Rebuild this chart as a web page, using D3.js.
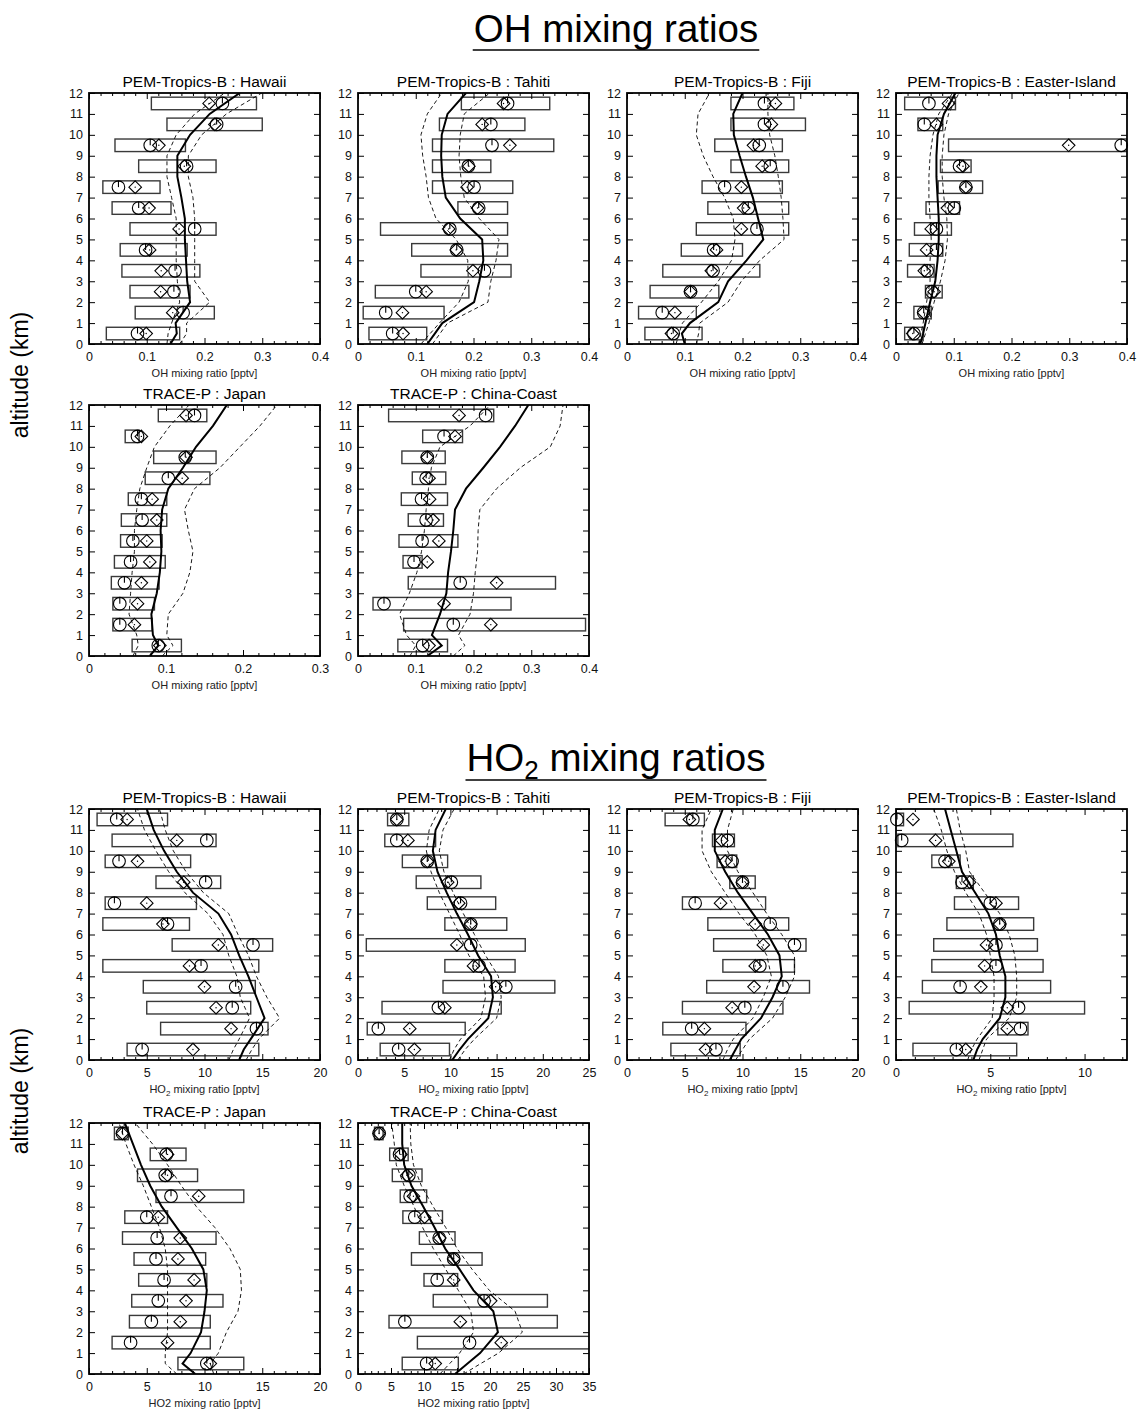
<!DOCTYPE html>
<html><head><meta charset="utf-8">
<script src="https://cdn.jsdelivr.net/npm/d3@7"></script>
<style>body{margin:0;background:#fff}svg{font-family:"Liberation Sans",Arial,Helvetica,sans-serif}</style>
</head><body>
<svg id="c" width="1137" height="1412"></svg>
<script>
// ---------- altitude grids ----------
const boxAlt = [0.5,1.5,2.5,3.5,4.5,5.5,6.5,7.5,8.5,9.5,10.5,11.5];
const lineAlt = [0,0.5,1,2,3,4,5,6,7,8,9,10,11,12];
const yTicks = [0,1,2,3,4,5,6,7,8,9,10,11,12];

// ---------- OH : PEM-Tropics-B Hawaii ----------
const ohHawaiiBox = [[0.030,0.157],[0.080,0.217],[0.071,0.175],[0.057,0.192],[0.054,0.170],[0.071,0.220],[0.040,0.142],[0.024,0.123],[0.086,0.220],[0.045,0.167],[0.135,0.300],[0.108,0.290]];
const ohHawaiiCircle = [0.084,0.163,0.147,0.149,0.098,0.183,0.086,0.051,0.169,0.106,0.221,0.231];
const ohHawaiiDiamond = [0.099,0.145,0.124,0.125,0.105,0.156,0.104,0.080,0.165,0.121,0.218,0.208];
const ohHawaiiModel = [0.141,0.152,0.150,0.175,0.170,0.168,0.166,0.166,0.160,0.153,0.153,0.175,0.209,0.261];
const ohHawaiiLo = [0.135,0.137,0.143,0.157,0.153,0.151,0.151,0.151,0.143,0.135,0.135,0.151,0.183,0.235];
const ohHawaiiHi = [0.157,0.169,0.169,0.209,0.183,0.183,0.183,0.183,0.180,0.172,0.172,0.195,0.238,0.299];

// ---------- OH : Tahiti ----------
const ohTahitiBox = [[0.019,0.119],[0.009,0.149],[0.030,0.192],[0.109,0.265],[0.093,0.259],[0.039,0.259],[0.173,0.259],[0.129,0.268],[0.129,0.230],[0.129,0.339],[0.141,0.289],[0.179,0.332]];
const ohTahitiCircle = [0.060,0.048,0.100,0.219,0.171,0.159,0.209,0.201,0.191,0.232,0.230,0.259];
const ohTahitiDiamond = [0.078,0.077,0.118,0.199,0.170,0.157,0.207,0.189,0.192,0.263,0.215,0.252];
const ohTahitiModel = [0.120,0.133,0.146,0.201,0.210,0.217,0.215,0.177,0.152,0.146,0.144,0.145,0.155,0.187];
const ohTahitiLo = [0.109,0.125,0.141,0.175,0.191,0.190,0.170,0.135,0.122,0.118,0.112,0.109,0.120,0.145];
const ohTahitiHi = [0.129,0.142,0.155,0.225,0.230,0.239,0.244,0.210,0.184,0.178,0.175,0.177,0.184,0.228];

// ---------- OH : Fiji ----------
const ohFijiBox = [[0.031,0.130],[0.020,0.120],[0.040,0.159],[0.062,0.230],[0.094,0.200],[0.120,0.280],[0.140,0.280],[0.130,0.269],[0.180,0.280],[0.152,0.269],[0.180,0.309],[0.180,0.289]];
const ohFijiCircle = [0.080,0.061,0.110,0.149,0.150,0.225,0.210,0.169,0.248,0.229,0.238,0.238];
const ohFijiDiamond = [0.077,0.083,0.110,0.146,0.155,0.198,0.202,0.198,0.234,0.219,0.250,0.257];
const ohFijiModel = [0.100,0.095,0.109,0.158,0.175,0.207,0.236,0.227,0.218,0.206,0.195,0.185,0.184,0.200];
const ohFijiLo = [0.085,0.090,0.096,0.129,0.158,0.181,0.187,0.184,0.169,0.149,0.132,0.120,0.123,0.143];
const ohFijiHi = [0.120,0.124,0.126,0.175,0.198,0.230,0.272,0.270,0.267,0.262,0.256,0.247,0.244,0.244];

// ---------- OH : Easter-Island ----------
const ohEasterBox = [[0.015,0.047],[0.031,0.061],[0.051,0.080],[0.020,0.066],[0.023,0.081],[0.032,0.096],[0.052,0.110],[0.073,0.150],[0.077,0.130],[0.091,0.400],[0.038,0.081],[0.015,0.103]];
const ohEasterCircle = [0.031,0.048,0.062,0.054,0.070,0.070,0.101,0.121,0.110,0.390,0.049,0.057];
const ohEasterDiamond = [0.029,0.048,0.066,0.049,0.053,0.061,0.089,0.121,0.116,0.299,0.070,0.091];
const ohEasterModel = [0.042,0.047,0.051,0.059,0.068,0.072,0.074,0.074,0.072,0.070,0.070,0.072,0.083,0.103];
const ohEasterLo = [0.039,0.043,0.047,0.053,0.059,0.059,0.061,0.059,0.057,0.057,0.059,0.064,0.074,0.098];
const ohEasterHi = [0.045,0.051,0.057,0.066,0.077,0.085,0.089,0.088,0.083,0.080,0.080,0.083,0.091,0.109];

// ---------- OH : TRACE-P Japan ----------
const ohJapanBox = [[0.056,0.120],[0.031,0.082],[0.031,0.085],[0.029,0.091],[0.033,0.099],[0.041,0.095],[0.042,0.101],[0.051,0.101],[0.073,0.157],[0.084,0.165],[0.047,0.065],[0.090,0.153]];
const ohJapanCircle = [0.090,0.040,0.040,0.046,0.054,0.057,0.069,0.068,0.103,0.125,0.063,0.137];
const ohJapanDiamond = [0.092,0.059,0.063,0.068,0.079,0.075,0.088,0.082,0.121,0.126,0.068,0.126];
const ohJapanModel = [0.079,0.090,0.083,0.081,0.088,0.092,0.094,0.093,0.095,0.103,0.122,0.139,0.161,0.179];
const ohJapanLo = [0.057,0.064,0.062,0.052,0.054,0.056,0.059,0.059,0.062,0.066,0.075,0.085,0.105,0.130];
const ohJapanHi = [0.095,0.109,0.101,0.103,0.122,0.131,0.135,0.129,0.124,0.137,0.170,0.196,0.222,0.244];

// ---------- OH : TRACE-P China-Coast ----------
const ohChinaBox = [[0.069,0.155],[0.079,0.394],[0.026,0.265],[0.087,0.342],[0.078,0.111],[0.071,0.173],[0.087,0.148],[0.075,0.155],[0.094,0.152],[0.076,0.151],[0.112,0.181],[0.053,0.235]];
const ohChinaCircle = [0.112,0.165,0.045,0.177,0.097,0.111,0.118,0.110,0.118,0.120,0.149,0.221];
const ohChinaDiamond = [0.123,0.230,0.149,0.240,0.120,0.140,0.130,0.124,0.123,0.120,0.168,0.175];
const ohChinaModel = [0.120,0.145,0.128,0.142,0.153,0.156,0.161,0.165,0.168,0.187,0.217,0.246,0.272,0.295];
const ohChinaLo = [0.090,0.100,0.084,0.072,0.089,0.102,0.110,0.115,0.118,0.122,0.127,0.142,0.194,0.229];
const ohChinaHi = [0.165,0.185,0.174,0.194,0.200,0.203,0.207,0.208,0.211,0.240,0.281,0.333,0.350,0.355];

// ---------- HO2 : Hawaii ----------
const ho2HawaiiBox = [[3.3,14.7],[6.2,15.5],[5.0,14.0],[4.7,14.4],[1.2,14.7],[7.2,15.9],[1.2,8.7],[1.4,9.3],[5.8,11.4],[1.4,8.8],[2.0,11.0],[0.7,6.8]];
const ho2HawaiiCircle = [4.6,14.5,12.4,12.7,9.7,14.2,6.8,2.2,10.1,2.6,10.2,2.4];
const ho2HawaiiDiamond = [9.0,12.3,11.0,10.0,8.7,11.2,6.4,5.0,8.2,4.2,7.6,3.3];
const ho2HawaiiModel = [13.0,13.4,14.0,15.2,14.5,13.8,13.0,12.3,11.2,9.0,7.6,6.5,5.6,5.0];
const ho2HawaiiLo = [12.1,12.5,13.0,13.9,13.1,12.8,12.1,11.6,10.3,8.3,6.9,5.8,4.8,4.2];
const ho2HawaiiHi = [13.6,14.1,14.7,16.5,15.4,14.5,13.8,12.9,12.1,9.9,8.4,7.3,6.6,6.1];

// ---------- HO2 : Tahiti ----------
const ho2TahitiBox = [[2.4,9.9],[1.0,11.6],[2.6,15.5],[9.2,21.3],[9.4,17.0],[0.9,18.1],[9.4,16.1],[7.5,14.9],[6.3,13.3],[4.8,9.7],[2.9,8.4],[3.2,5.5]];
const ho2TahitiCircle = [4.4,2.2,8.7,16.0,13.1,12.2,12.2,11.1,10.1,7.5,4.2,4.2];
const ho2TahitiDiamond = [6.1,5.6,9.4,14.9,12.5,10.7,12.2,10.9,9.7,7.5,5.4,4.2];
const ho2TahitiModel = [10.2,11.0,11.9,14.1,14.6,14.4,13.0,11.9,10.7,9.6,8.6,8.1,8.4,9.5];
const ho2TahitiLo = [9.9,10.4,11.1,13.3,13.8,13.6,12.0,11.0,9.9,8.8,7.9,7.4,7.7,8.8];
const ho2TahitiHi = [10.8,11.6,12.6,15.0,15.5,15.2,13.8,12.6,11.4,10.3,9.3,8.8,9.2,10.4];

// ---------- HO2 : Fiji ----------
const ho2FijiBox = [[3.8,9.8],[3.1,10.3],[4.8,13.5],[6.9,15.8],[8.3,14.5],[7.5,15.5],[7.0,14.0],[4.8,12.0],[8.9,11.1],[7.8,9.5],[7.4,9.3],[3.3,6.7]];
const ho2FijiCircle = [7.7,5.6,10.2,13.5,11.5,14.5,12.4,5.9,10.0,9.1,8.7,5.7];
const ho2FijiDiamond = [6.8,6.7,9.1,11.0,11.1,11.8,11.1,8.1,10.0,8.5,8.2,5.4];
const ho2FijiModel = [8.9,9.4,9.9,11.6,12.6,13.4,13.2,12.2,10.9,9.6,8.5,7.6,7.6,8.3];
const ho2FijiLo = [8.3,8.7,9.2,10.9,11.8,12.5,12.1,11.1,9.7,8.5,7.3,6.5,6.5,7.3];
const ho2FijiHi = [9.4,10.0,10.6,12.6,13.7,14.5,14.5,13.4,12.1,10.9,9.6,8.7,8.7,9.2];

// ---------- HO2 : Easter-Island ----------
const ho2EasterBox = [[0.9,6.4],[5.4,7.0],[0.7,10.0],[1.4,8.2],[1.9,7.8],[2.0,7.5],[2.7,7.3],[3.1,6.5],[3.2,4.1],[1.9,3.4],[0.1,6.2],[-0.1,0.4]];
const ho2EasterCircle = [3.2,6.6,6.5,3.4,5.3,5.3,5.5,5.0,3.5,2.6,0.3,0.05];
const ho2EasterDiamond = [3.7,5.9,5.9,4.5,4.7,4.8,5.5,5.3,3.9,2.8,2.1,0.9];
const ho2EasterModel = [4.1,4.3,4.6,5.5,5.8,5.8,5.5,5.3,4.9,4.2,3.5,3.2,2.9,2.6];
const ho2EasterLo = [3.8,4.0,4.3,5.1,5.2,5.2,5.0,4.8,4.4,3.7,3.1,2.7,2.4,2.0];
const ho2EasterHi = [4.4,4.6,4.8,6.0,6.4,6.4,6.3,6.0,5.5,4.7,3.9,3.7,3.4,3.2];

// ---------- HO2 : TRACE-P Japan ----------
const ho2JapanBox = [[7.7,13.4],[2.0,10.5],[3.5,10.5],[3.7,11.6],[4.3,10.2],[3.9,10.1],[2.9,11.0],[3.1,6.8],[5.8,13.4],[4.2,9.4],[5.3,8.4],[2.2,3.4]];
const ho2JapanCircle = [10.2,3.6,5.4,6.0,6.5,5.8,5.9,5.0,7.1,6.6,6.7,2.9];
const ho2JapanDiamond = [10.5,6.8,7.9,8.4,9.1,7.7,7.9,6.0,9.5,6.8,6.8,2.9];
const ho2JapanModel = [9.2,8.1,8.8,9.7,10.0,10.2,9.9,8.9,7.6,6.3,5.3,4.5,3.8,3.1];
const ho2JapanLo = [7.6,6.6,6.6,6.8,6.8,6.8,6.8,6.6,6.1,5.4,4.7,3.9,3.2,2.6];
const ho2JapanHi = [10.8,10.5,11.2,11.9,12.9,13.2,13.1,12.2,10.9,9.3,8.0,6.8,5.5,4.0];

// ---------- HO2 : TRACE-P China-Coast ----------
const ho2ChinaBox = [[6.7,15.2],[9.0,36],[4.7,30.2],[11.4,28.7],[10.0,15.1],[8.1,18.8],[9.3,14.7],[6.8,12.8],[6.4,10.4],[5.2,9.7],[4.8,7.6],[2.5,3.8]];
const ho2ChinaCircle = [10.4,16.9,7.1,19.1,12.0,14.5,12.3,8.6,7.9,7.7,6.3,3.2];
const ho2ChinaDiamond = [11.7,21.7,15.5,20.1,14.5,14.5,12.4,10.1,8.4,7.4,6.5,3.2];
const ho2ChinaModel = [14.7,16.6,18.5,21.2,20.5,17.5,15.4,13.2,11.6,9.9,8.1,7.0,6.7,6.7];
const ho2ChinaLo = [12.4,13.9,15.4,17.5,17.1,15.2,13.3,11.4,9.8,8.5,7.0,5.8,5.5,5.1];
const ho2ChinaHi = [16.0,18.6,21.3,24.9,23.8,19.9,17.3,15.0,13.3,11.4,9.6,8.4,8.0,7.9];

// ---------- titles / labels ----------
const panelTitles = ["PEM-Tropics-B : Hawaii","PEM-Tropics-B : Tahiti","PEM-Tropics-B : Fiji","PEM-Tropics-B : Easter-Island","TRACE-P : Japan","TRACE-P : China-Coast"];

// ---------- layout ----------
const colX = [89,358,627,896];
const rowY = [93,405,809,1123];
const PW = 231, PH = 251;

const svg = d3.select("#c");
const FONT = '"Liberation Sans",Arial,Helvetica,sans-serif';

const panels = [
  {r:0,c:0,t:0,kind:"OH",dom:[0,0.4],maj:0.1,min:0.02,box:ohHawaiiBox,cir:ohHawaiiCircle,dia:ohHawaiiDiamond,mod:ohHawaiiModel,lo:ohHawaiiLo,hi:ohHawaiiHi},
  {r:0,c:1,t:1,kind:"OH",dom:[0,0.4],maj:0.1,min:0.02,box:ohTahitiBox,cir:ohTahitiCircle,dia:ohTahitiDiamond,mod:ohTahitiModel,lo:ohTahitiLo,hi:ohTahitiHi},
  {r:0,c:2,t:2,kind:"OH",dom:[0,0.4],maj:0.1,min:0.02,box:ohFijiBox,cir:ohFijiCircle,dia:ohFijiDiamond,mod:ohFijiModel,lo:ohFijiLo,hi:ohFijiHi},
  {r:0,c:3,t:3,kind:"OH",dom:[0,0.4],maj:0.1,min:0.02,box:ohEasterBox,cir:ohEasterCircle,dia:ohEasterDiamond,mod:ohEasterModel,lo:ohEasterLo,hi:ohEasterHi},
  {r:1,c:0,t:4,kind:"OH",dom:[0,0.3],maj:0.1,min:0.02,box:ohJapanBox,cir:ohJapanCircle,dia:ohJapanDiamond,mod:ohJapanModel,lo:ohJapanLo,hi:ohJapanHi},
  {r:1,c:1,t:5,kind:"OH",dom:[0,0.4],maj:0.1,min:0.02,box:ohChinaBox,cir:ohChinaCircle,dia:ohChinaDiamond,mod:ohChinaModel,lo:ohChinaLo,hi:ohChinaHi},
  {r:2,c:0,t:0,kind:"HO2s",dom:[0,20],maj:5,min:1,box:ho2HawaiiBox,cir:ho2HawaiiCircle,dia:ho2HawaiiDiamond,mod:ho2HawaiiModel,lo:ho2HawaiiLo,hi:ho2HawaiiHi},
  {r:2,c:1,t:1,kind:"HO2s",dom:[0,25],maj:5,min:1,box:ho2TahitiBox,cir:ho2TahitiCircle,dia:ho2TahitiDiamond,mod:ho2TahitiModel,lo:ho2TahitiLo,hi:ho2TahitiHi},
  {r:2,c:2,t:2,kind:"HO2s",dom:[0,20],maj:5,min:1,box:ho2FijiBox,cir:ho2FijiCircle,dia:ho2FijiDiamond,mod:ho2FijiModel,lo:ho2FijiLo,hi:ho2FijiHi},
  {r:2,c:3,t:3,kind:"HO2s",dom:[0,12.25],maj:5,min:1,box:ho2EasterBox,cir:ho2EasterCircle,dia:ho2EasterDiamond,mod:ho2EasterModel,lo:ho2EasterLo,hi:ho2EasterHi},
  {r:3,c:0,t:4,kind:"HO2",dom:[0,20],maj:5,min:1,box:ho2JapanBox,cir:ho2JapanCircle,dia:ho2JapanDiamond,mod:ho2JapanModel,lo:ho2JapanLo,hi:ho2JapanHi},
  {r:3,c:1,t:5,kind:"HO2",dom:[0,35],maj:5,min:1,box:ho2ChinaBox,cir:ho2ChinaCircle,dia:ho2ChinaDiamond,mod:ho2ChinaModel,lo:ho2ChinaLo,hi:ho2ChinaHi}
];

function rng(a,b,s){const out=[];for(let v=a;v<=b+1e-9;v+=s) out.push(+v.toFixed(4));return out;}

panels.forEach((p,i)=>{
  const x0 = colX[p.c], y0 = rowY[p.r];
  const g = svg.append("g").attr("transform",`translate(${x0},${y0})`);
  const x = d3.scaleLinear().domain(p.dom).range([0,PW]);
  const y = d3.scaleLinear().domain([0,12]).range([PH,0]);
  const clipId = "clip"+i;
  g.append("clipPath").attr("id",clipId).append("rect").attr("width",PW).attr("height",PH);
  const inner = g.append("g").attr("clip-path",`url(#${clipId})`);

  // boxes
  inner.selectAll("rect.box").data(p.box.map((b,k)=>({lo:b[0],hi:b[1],a:boxAlt[k]})))
    .enter().append("rect").attr("class","box")
    .attr("x",d=>x(d.lo)).attr("width",d=>x(d.hi)-x(d.lo))
    .attr("y",d=>y(d.a+0.3)).attr("height",d=>y(d.a-0.3)-y(d.a+0.3))
    .attr("fill","none").attr("stroke","#3a3a3a").attr("stroke-width",1.4);

  // model lines
  const line = d3.line().x(d=>x(d[0])).y(d=>y(d[1]));
  const z = arr => arr.map((v,k)=>[v,lineAlt[k]]);
  inner.append("path").attr("d",line(z(p.lo))).attr("fill","none").attr("stroke","#000").attr("stroke-width",0.9).attr("stroke-dasharray","4,3");
  inner.append("path").attr("d",line(z(p.hi))).attr("fill","none").attr("stroke","#000").attr("stroke-width",0.9).attr("stroke-dasharray","4,3");
  inner.append("path").attr("d",line(z(p.mod))).attr("fill","none").attr("stroke","#000").attr("stroke-width",2);

  // diamonds
  const R = 6.3;
  const dg = g.selectAll("g.dia").data(p.dia.map((v,k)=>({v,a:boxAlt[k]}))).enter().append("g")
    .attr("transform",d=>`translate(${x(d.v)},${y(d.a)})`);
  dg.append("path").attr("d",`M0,${-R}L${R},0L0,${R}L${-R},0Z`).attr("fill","none").attr("stroke","#000").attr("stroke-width",1.1);
  dg.append("circle").attr("r",0.7).attr("fill","#000");
  // circles
  const cg = g.selectAll("g.cir").data(p.cir.map((v,k)=>({v,a:boxAlt[k]}))).enter().append("g")
    .attr("transform",d=>`translate(${x(d.v)},${y(d.a)})`);
  cg.append("circle").attr("r",R).attr("fill","none").attr("stroke","#000").attr("stroke-width",1.1);
  cg.append("line").attr("x1",0).attr("x2",0).attr("y1",-R).attr("y2",0).attr("stroke","#000").attr("stroke-width",1.1);

  // axes
  const majT = rng(p.dom[0], p.dom[1], p.maj);
  const minT = rng(p.dom[0], p.dom[1], p.min).filter(v=>!majT.some(m=>Math.abs(m-v)<1e-6));
  const style = sel => { sel.select(".domain").remove(); sel.selectAll("line").attr("stroke","#000").attr("stroke-width",1);
    sel.selectAll("text").attr("font-family",FONT).attr("font-size",12.5).attr("fill","#111"); };
  g.append("g").attr("transform",`translate(0,${PH})`).call(d3.axisBottom(x).tickValues(majT).tickSize(-6).tickPadding(8).tickFormat(v=>String(v))).call(style);
  g.append("g").attr("transform",`translate(0,${PH})`).call(d3.axisBottom(x).tickValues(minT).tickSize(-3).tickFormat("")).call(style);
  g.append("g").call(d3.axisTop(x).tickValues(majT).tickSize(-6).tickFormat("")).call(style);
  g.append("g").call(d3.axisTop(x).tickValues(minT).tickSize(-3).tickFormat("")).call(style);
  g.append("g").call(d3.axisLeft(y).tickValues(yTicks).tickSize(-6).tickPadding(6).tickFormat(d3.format("d"))).call(style);
  g.append("g").attr("transform",`translate(${PW},0)`).call(d3.axisRight(y).tickValues(yTicks).tickSize(-6).tickFormat("")).call(style);

  // frame
  g.append("rect").attr("width",PW).attr("height",PH).attr("fill","none").attr("stroke","#000").attr("stroke-width",1.8);

  // title
  g.append("text").attr("x",PW/2).attr("y",-6).attr("text-anchor","middle")
    .attr("font-family",FONT).attr("font-size",15.5).attr("fill","#000").text(panelTitles[p.t]);

  // x label
  const xl = g.append("text").attr("x",PW/2).attr("y",PH+33).attr("text-anchor","middle")
    .attr("font-family",FONT).attr("font-size",11).attr("fill","#222");
  if (p.kind==="OH") xl.text("OH mixing ratio [pptv]");
  else if (p.kind==="HO2") xl.text("HO2 mixing ratio [pptv]");
  else { xl.append("tspan").text("HO"); xl.append("tspan").attr("font-size",8).attr("dy",2.5).text("2");
         xl.append("tspan").attr("dy",-2.5).text(" mixing ratio [pptv]"); }
});

// big section titles
function bigTitle(yBase, yLine, sub){
  const t = svg.append("text").attr("x",616).attr("y",yBase).attr("text-anchor","middle")
    .attr("font-family",FONT).attr("font-size",38.5).attr("fill","#000");
  if (!sub) t.text("OH mixing ratios");
  else { t.append("tspan").text("HO"); t.append("tspan").attr("font-size",26).attr("dy",8).text("2");
         t.append("tspan").attr("dy",-8).text(" mixing ratios"); }
  const bb = t.node().getBBox();
  svg.append("line").attr("x1",bb.x-1).attr("x2",bb.x+bb.width+1).attr("y1",yLine).attr("y2",yLine)
    .attr("stroke","#000").attr("stroke-width",1.6);
}
bigTitle(42, 50, false);
bigTitle(771, 780, true);

// altitude labels
[[375],[1091]].forEach(([cy])=>{
  svg.append("text").attr("transform",`translate(28,${cy}) rotate(-90)`).attr("text-anchor","middle")
    .attr("font-family",FONT).attr("font-size",23).attr("fill","#000").text("altitude (km)");
});
</script>
</body></html>
